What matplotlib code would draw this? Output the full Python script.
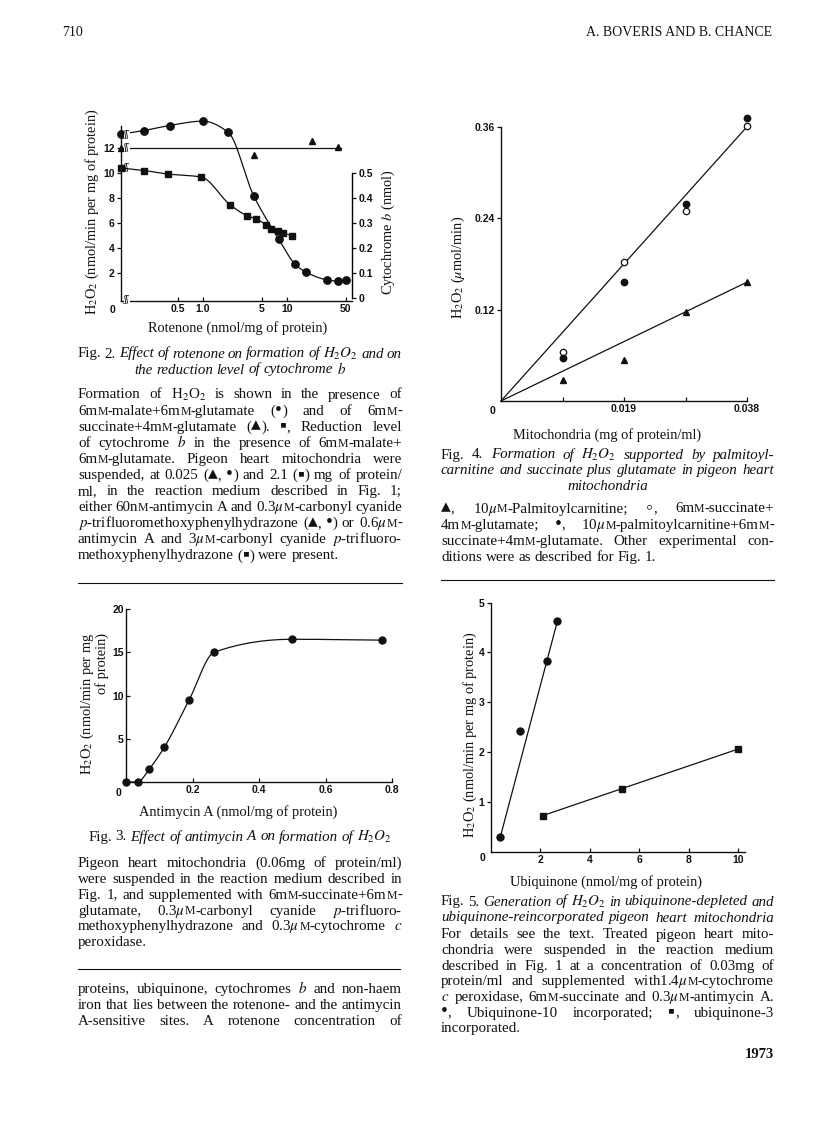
import numpy as np
import matplotlib
matplotlib.use('Agg')
import matplotlib.pyplot as plt
from matplotlib.ticker import NullLocator, FixedLocator, FixedFormatter

plt.rcParams['font.family'] = ['Liberation Serif', 'DejaVu Serif']
plt.rcParams['mathtext.fontset'] = 'stix'

# ---- Fig. 2: rotenone (0 = value at the axis break) ----
rot_circ_x = [0, 0.2, 0.4, 1.0, 2.0, 4.0, 8.0, 12.5, 17, 30, 40, 50]
rot_circ_y = [13.1, 13.4, 13.8, 14.15, 13.25, 8.2, 4.7, 2.7, 2.05, 1.45, 1.35, 1.45]
rot_tri_x = [0, 4.0, 20, 40]
rot_tri_y = [12.0, 11.45, 12.6, 12.1]
rot_tri_level = 12.0
rot_sq_x = [0, 0.2, 0.38, 0.95, 2.1, 3.3, 4.3, 5.6, 6.5, 7.8, 9.0, 11.4]
rot_sq_cyt = [0.52, 0.51, 0.496, 0.484, 0.373, 0.33, 0.316, 0.293, 0.276, 0.27, 0.26, 0.25]

# ---- Fig. 3: antimycin A ----
anti_x = [0, 0.035, 0.07, 0.115, 0.19, 0.265, 0.5, 0.77]
anti_y = [0, 0, 1.5, 4.0, 9.5, 15.0, 16.5, 16.4]

# ---- Fig. 4: mitochondria ----
mito_x = [0.0095, 0.019, 0.0285, 0.038]
palm_y = [0.028, 0.054, 0.117, 0.156]
succ_y = [0.064, 0.183, 0.250, 0.361]
both_y = [0.056, 0.156, 0.259, 0.371]
fit_x = [0, 0.038]
fit_upper = [0, 0.36]
fit_lower = [0, 0.156]

# ---- Fig. 5: ubiquinone ----
q10_x = [0.4, 1.2, 2.3, 2.7]
q10_y = [0.3, 2.42, 3.82, 4.63]
q3_x = [2.1, 5.3, 10.0]
q3_y = [0.72, 1.25, 2.06]

W, H = 816, 1136
fig = plt.figure(figsize=(W / 100, H / 100), dpi=100)
renderer = fig.canvas.get_renderer()
INK = '#111111'
TICKFONT = dict(fontfamily='Liberation Sans', fontweight='bold', fontsize=7.5, color=INK)
BODY = 10.8
LAB = 10.4
SYMBOLS = '▪▴•◦'
SMALLCAP = 'ᴍ'   # written as a small capital M


def fx(x):
    return x / W


def fy(y):
    return 1 - y / H


def add_ax(l, t, r, b):
    return fig.add_axes([l / W, 1 - b / H, (r - l) / W, (b - t) / H])


def style(ax, xdir='in', ydir='out'):
    for s in ['top', 'right']:
        ax.spines[s].set_visible(False)
    for s in ['left', 'bottom']:
        ax.spines[s].set_linewidth(1.0)
        ax.spines[s].set_color(INK)
    ax.tick_params(axis='x', direction=xdir, length=3, width=0.9, pad=2.5, colors=INK)
    ax.tick_params(axis='y', direction=ydir, length=3, width=0.9, pad=1.5, colors=INK)
    ax.set_facecolor('none')


def pchip(x, y, xn):
    x = np.asarray(x, float)
    y = np.asarray(y, float)
    h = np.diff(x)
    d = np.diff(y) / h
    m = np.zeros_like(y)
    m[0], m[-1] = d[0], d[-1]
    for k in range(1, len(x) - 1):
        if d[k - 1] * d[k] > 0:
            w1 = 2 * h[k] + h[k - 1]
            w2 = h[k] + 2 * h[k - 1]
            m[k] = (w1 + w2) / (w1 / d[k - 1] + w2 / d[k])
    i = np.clip(np.searchsorted(x, xn) - 1, 0, len(h) - 1)
    t = (xn - x[i]) / h[i]
    return ((2 * t**3 - 3 * t**2 + 1) * y[i] + (t**3 - 2 * t**2 + t) * h[i] * m[i]
            + (-2 * t**3 + 3 * t**2) * y[i + 1] + (t**3 - t**2) * h[i] * m[i + 1])


def split_runs(word):
    runs, cur, kind = [], '', None
    for ch in word:
        k = 'sym' if ch in SYMBOLS else ('sc' if ch == SMALLCAP else 'txt')
        if k != kind and cur:
            runs.append((cur, kind))
            cur = ''
        kind = k
        cur += 'M' if k == 'sc' else ch
    if cur:
        runs.append((cur, kind))
    return runs


def make_word(w, st, size, ybase):
    items = []
    for seg, kind in split_runs(w):
        sz = size * 1.3 if kind == 'sym' else (size * 0.78 if kind == 'sc' else size)
        t = fig.text(0, fy(ybase), seg, fontsize=sz, fontstyle=st, color=INK,
                     va='baseline', ha='left')
        items.append((t, t.get_window_extent(renderer).width))
    return items


def put_line(x0, x1, yc, s, size=BODY, align='justify'):
    """Place one printed line word by word (justified like the journal page)."""
    if '|' in s:
        rom, ita = s.split('|', 1)
    else:
        rom, ita = s, ''
    words = [(w, 'normal') for w in rom.split(' ') if w] + \
            [(w, 'italic') for w in ita.split(' ') if w]
    while True:
        groups = [make_word(w, st, size, yc + 3.5) for w, st in words]
        widths = [sum(wd for _, wd in g) for g in groups]
        space = size * 100 / 72 * 0.25
        n = len(groups)
        if n > 1 and (x1 - x0 - sum(widths)) / (n - 1) < 2.2 and size > 7:
            for g in groups:
                for t, _ in g:
                    t.remove()
            size *= 0.97
            continue
        break
    total = sum(widths) + space * (n - 1)
    if align == 'justify' and n > 1:
        gap, x = (x1 - x0 - sum(widths)) / (n - 1), x0
    elif align == 'center':
        gap, x = space, (x0 + x1) / 2 - total / 2
    elif align == 'right':
        gap, x = space, x1 - total
    else:
        gap, x = space, x0
    for g in groups:
        for t, wd in g:
            t.set_x(fx(x))
            x += wd
        x += gap


def para(x0, x1, y0, dy, lines, size=BODY, last='left'):
    for k, s in enumerate(lines):
        put_line(x0, x1, y0 + k * dy, s, size, last if k == len(lines) - 1 else 'justify')


LX0, LX1 = 78, 402
RX0, RX1 = 441, 774

# ================= Fig. 2 =================
ax = add_ax(121, 125.5, 352, 301)
style(ax, xdir='in', ydir='out')
ax.set_xscale('log')
xmin, xmax = 0.1057, 59.4
ax.set_xlim(xmin, xmax)
ax.set_ylim(-0.24, 13.8)
ax.set_yticks([2, 4, 6, 8, 10, 12], ['2', '4', '6', '8', '10', '12'], **TICKFONT)


def at_break(xs):
    return np.array([xmin if v == 0 else v for v in xs], float)


cx = at_break(rot_circ_x)
lx = np.log10(cx)
xs = np.linspace(lx[0], lx[-1], 300)
ax.plot(10**xs, pchip(lx, rot_circ_y, xs), color=INK, lw=0.9, clip_on=False)
ax.plot(cx, rot_circ_y, 'o', color=INK, ms=5.3, clip_on=False, zorder=5)

tx = at_break(rot_tri_x)
ax.plot([xmin, tx[-1] * 1.1], [rot_tri_level, rot_tri_level], color=INK, lw=0.9, clip_on=False)
ax.plot(tx, rot_tri_y, '^', color=INK, ms=5, clip_on=False, zorder=5)

ax2 = ax.twinx()
ax2.set_ylim(-0.24 / 20, 13.8 / 20)
for s in ['top', 'left', 'bottom']:
    ax2.spines[s].set_visible(False)
ax2.spines['right'].set_bounds(0, 0.5)
ax2.spines['right'].set_linewidth(1.0)
ax2.tick_params(axis='y', direction='out', length=3, width=0.9, pad=1.5, colors=INK)
ax2.set_yticks([0, 0.1, 0.2, 0.3, 0.4, 0.5], ['0', '0.1', '0.2', '0.3', '0.4', '0.5'], **TICKFONT)
sx = at_break(rot_sq_x)
lsx = np.log10(sx)
xs = np.linspace(lsx[0], lsx[-1], 300)
ax2.plot(10**xs, pchip(lsx, rot_sq_cyt, xs), color=INK, lw=0.9, clip_on=False)
ax2.plot(sx, rot_sq_cyt, 's', color=INK, ms=4.6, clip_on=False, zorder=5)
ax2.set_xlim(xmin, xmax)

# log ticks set after the twin so they are not reset
ax.xaxis.set_minor_locator(NullLocator())
ax.xaxis.set_major_locator(FixedLocator([0.5, 1, 5, 10, 50]))
ax.xaxis.set_major_formatter(FixedFormatter(['0.5', '1.0', '5', '10', '50']))
for t in ax.get_xticklabels():
    t.set(**TICKFONT)

for yb in [rot_circ_y[0], rot_tri_y[0], rot_sq_cyt[0] * 20, -0.1]:
    ax.text(0.125, yb, 'ʃʃ', fontsize=7, ha='center', va='center', color=INK,
            family=['DejaVu Serif'], clip_on=False, zorder=6,
            bbox=dict(boxstyle='square,pad=0.05', fc='white', ec='none'))

fig.text(fx(112), fy(310), '0', ha='center', va='center', **TICKFONT)
fig.text(fx(92), fy(212), 'H$_2$O$_2$ (nmol/min per mg of protein)', rotation=90,
         ha='center', va='center', fontsize=LAB, color=INK)
fig.text(fx(388), fy(232), 'Cytochrome $b$ (nmol)', rotation=90,
         ha='center', va='center', fontsize=LAB, color=INK)
fig.text(fx(238), fy(328), 'Rotenone (nmol/mg of protein)', ha='center', va='center',
         fontsize=LAB, color=INK)

put_line(LX0, LX1, 354, 'Fig. 2.|Effect of rotenone on formation of $H_2O_2$ and on')
put_line(LX0, LX1, 370, '|the reduction level of cytochrome $b$', align='center')
para(LX0, LX1, 395, 16.1, [
    'Formation of H$_2$O$_2$ is shown in the presence of',
    '6mᴍ-malate+6mᴍ-glutamate (•) and of 6mᴍ-',
    'succinate+4mᴍ-glutamate (▴). ▪, Reduction level',
    'of cytochrome $b$ in the presence of 6mᴍ-malate+',
    '6mᴍ-glutamate. Pigeon heart mitochondria were',
    'suspended, at 0.025 (▴, •) and 2.1 (▪) mg of protein/',
    'ml, in the reaction medium described in Fig. 1;',
    'either 60nᴍ-antimycin A and 0.3$\\mu$ᴍ-carbonyl cyanide',
    '$p$-trifluoromethoxyphenylhydrazone (▴, •) or 0.6$\\mu$ᴍ-',
    'antimycin A and 3$\\mu$ᴍ-carbonyl cyanide $p$-trifluoro-',
    'methoxyphenylhydrazone (▪) were present.',
])
fig.add_artist(plt.Line2D([fx(LX0), fx(LX1)], [fy(583), fy(583)], color=INK, lw=0.8))

# ================= Fig. 3 =================
ax = add_ax(126, 609, 392, 782)
style(ax, xdir='in', ydir='in')
ax.set_xlim(0, 0.8)
ax.set_ylim(0, 20)
ax.set_xticks([0.2, 0.4, 0.6, 0.8], ['0.2', '0.4', '0.6', '0.8'], **TICKFONT)
ax.set_yticks([5, 10, 15, 20], ['5', '10', '15', '20'], **TICKFONT)
xs = np.linspace(anti_x[0], anti_x[-1], 300)
ax.plot(xs, pchip(anti_x, anti_y, xs), color=INK, lw=0.9, clip_on=False)
ax.plot(anti_x, anti_y, 'o', color=INK, ms=5, clip_on=False, zorder=5)
fig.text(fx(118), fy(793), '0', ha='center', va='center', **TICKFONT)
fig.text(fx(87), fy(704), 'H$_2$O$_2$ (nmol/min per mg', rotation=90,
         ha='center', va='center', fontsize=LAB, color=INK)
fig.text(fx(102), fy(663), 'of protein)', rotation=90,
         ha='center', va='center', fontsize=LAB, color=INK)
fig.text(fx(238), fy(812), 'Antimycin A (nmol/mg of protein)', ha='center', va='center',
         fontsize=LAB, color=INK)
put_line(LX0, LX1, 837, 'Fig. 3.|Effect of antimycin A on formation of $H_2O_2$', align='center')
para(LX0, LX1, 863.3, 15.9, [
    'Pigeon heart mitochondria (0.06mg of protein/ml)',
    'were suspended in the reaction medium described in',
    'Fig. 1, and supplemented with 6mᴍ-succinate+6mᴍ-',
    'glutamate, 0.3$\\mu$ᴍ-carbonyl cyanide $p$-trifluoro-',
    'methoxyphenylhydrazone and 0.3$\\mu$ᴍ-cytochrome $c$',
    'peroxidase.',
])
fig.add_artist(plt.Line2D([fx(LX0), fx(LX1 - 2)], [fy(969), fy(969)], color=INK, lw=0.8))
para(LX0, LX1, 989.3, 15.9, [
    'proteins, ubiquinone, cytochromes $b$ and non-haem',
    'iron that lies between the rotenone- and the antimycin',
    'A-sensitive sites. A rotenone concentration of',
], last='justify')

# ================= Fig. 4 =================
ax = add_ax(501, 126.7, 747, 401)
style(ax, xdir='in', ydir='out')
ax.set_xlim(0, 0.038)
ax.set_ylim(0, 0.36)
ax.set_xticks([0.0095, 0.019, 0.0285, 0.038], ['', '0.019', '', '0.038'], **TICKFONT)
ax.set_yticks([0.12, 0.24, 0.36], ['0.12', '0.24', '0.36'], **TICKFONT)
ax.plot(fit_x, fit_upper, color=INK, lw=0.9, clip_on=False)
ax.plot(fit_x, fit_lower, color=INK, lw=0.9, clip_on=False)
ax.plot(mito_x, palm_y, '^', color=INK, ms=4.6, clip_on=False, zorder=5)
ax.plot(mito_x, succ_y, 'o', mfc='white', mec=INK, mew=0.9, ms=4.6, clip_on=False, zorder=5)
ax.plot(mito_x, both_y, 'o', color=INK, ms=4.6, clip_on=False, zorder=5)
fig.text(fx(493), fy(411), '0', ha='center', va='center', **TICKFONT)
fig.text(fx(458), fy(267), 'H$_2$O$_2$ ($\\mu$mol/min)', rotation=90,
         ha='center', va='center', fontsize=LAB, color=INK)
fig.text(fx(607), fy(435), 'Mitochondria (mg of protein/ml)', ha='center', va='center',
         fontsize=LAB, color=INK)
put_line(RX0, RX1, 455, 'Fig. 4.|Formation of $H_2O_2$ supported by palmitoyl-')
put_line(RX0, RX1, 470.7, '|carnitine and succinate plus glutamate in pigeon heart')
put_line(RX0, RX1, 486.7, '|mitochondria', align='center')
para(RX0, RX1, 509, 16.1, [
    '▴, 10$\\mu$ᴍ-Palmitoylcarnitine; ◦, 6mᴍ-succinate+',
    '4mᴍ-glutamate; •, 10$\\mu$ᴍ-palmitoylcarnitine+6mᴍ-',
    'succinate+4mᴍ-glutamate. Other experimental con-',
    'ditions were as described for Fig. 1.',
])
fig.add_artist(plt.Line2D([fx(RX0), fx(RX1)], [fy(580), fy(580)], color=INK, lw=0.8))

# ================= Fig. 5 =================
ax = add_ax(490.5, 602.7, 745, 851.5)
style(ax, xdir='in', ydir='out')
ax.set_xlim(0, 10.27)
ax.set_ylim(0, 5)
ax.set_xticks([2, 4, 6, 8, 10], ['2', '4', '6', '8', '10'], **TICKFONT)
ax.set_yticks([1, 2, 3, 4, 5], ['1', '2', '3', '4', '5'], **TICKFONT)
ax.plot([q10_x[0], q10_x[-1]], [q10_y[0], q10_y[-1]], color=INK, lw=0.9)
ax.plot(q10_x, q10_y, 'o', color=INK, ms=5, clip_on=False, zorder=5)
ax.plot([q3_x[0], q3_x[-1]], [q3_y[0], q3_y[-1]], color=INK, lw=0.9)
ax.plot(q3_x, q3_y, 's', color=INK, ms=4.4, clip_on=False, zorder=5)
fig.text(fx(483), fy(858), '0', ha='center', va='center', **TICKFONT)
fig.text(fx(470), fy(735), 'H$_2$O$_2$ (nmol/min per mg of protein)', rotation=90,
         ha='center', va='center', fontsize=LAB, color=INK)
fig.text(fx(606), fy(881.7), 'Ubiquinone (nmol/mg of protein)', ha='center', va='center',
         fontsize=LAB, color=INK)
put_line(RX0, RX1, 902, 'Fig. 5.|Generation of $H_2O_2$ in ubiquinone-depleted and')
put_line(RX0, RX1, 918, '|ubiquinone-reincorporated pigeon heart mitochondria')
para(RX0, RX1, 935, 15.6, [
    'For details see the text. Treated pigeon heart mito-',
    'chondria were suspended in the reaction medium',
    'described in Fig. 1 at a concentration of 0.03mg of',
    'protein/ml and supplemented with1.4$\\mu$ᴍ-cytochrome',
    '$c$ peroxidase, 6mᴍ-succinate and 0.3$\\mu$ᴍ-antimycin A.',
    '•, Ubiquinone-10 incorporated; ▪, ubiquinone-3',
    'incorporated.',
])

# ---- page furniture ----
fig.text(fx(62), fy(33), '710', ha='left', va='center', fontsize=10, color=INK)
fig.text(fx(772), fy(33), 'A. BOVERIS AND B. CHANCE', ha='right', va='center',
         fontsize=10, color=INK)
fig.text(fx(774), fy(1055), '1973', ha='right', va='center', fontsize=10.5,
         fontweight='bold', color=INK)

fig.savefig('out.png', dpi=100)
